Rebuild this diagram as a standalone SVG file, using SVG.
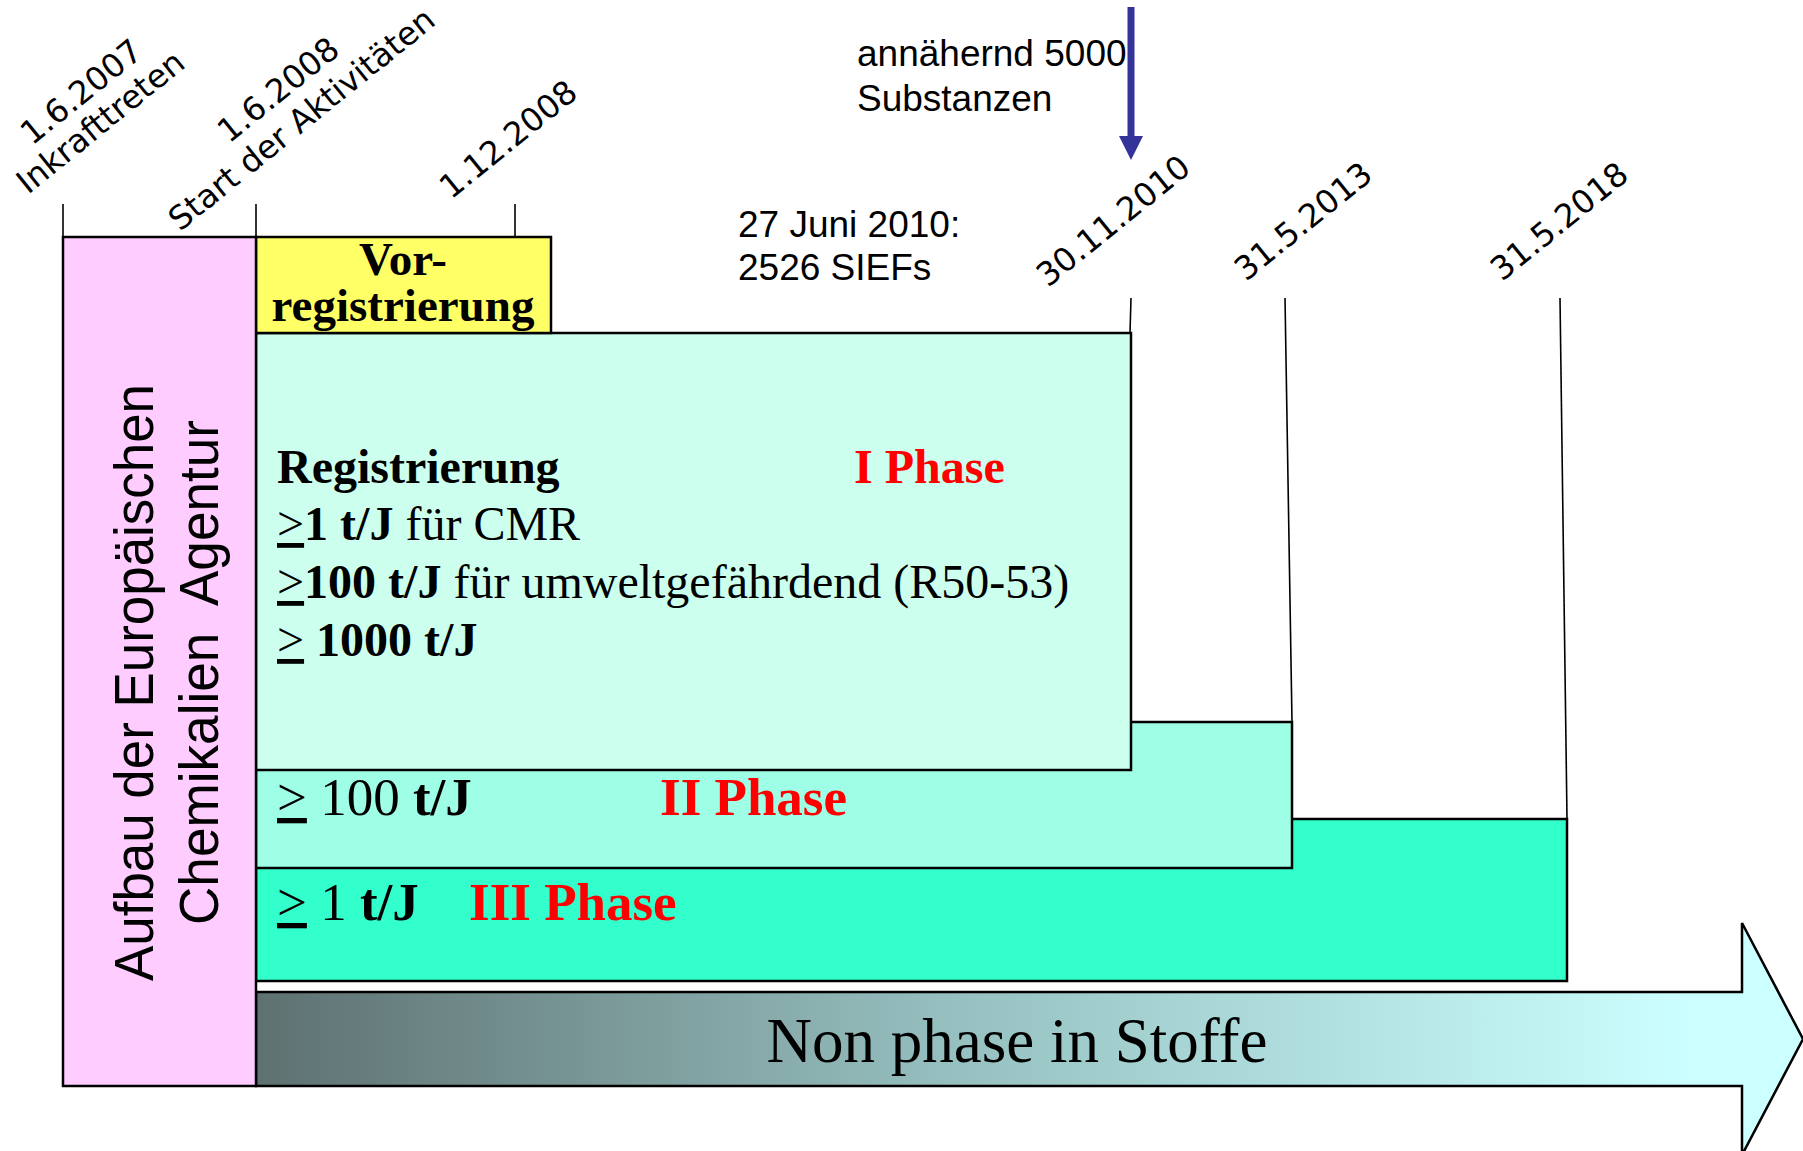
<svg xmlns="http://www.w3.org/2000/svg" width="1803" height="1151" viewBox="0 0 1803 1151">
<defs>
<linearGradient id="arrowGrad" gradientUnits="userSpaceOnUse" x1="256" y1="0" x2="1690" y2="0">
<stop offset="0" stop-color="#5E7171"/>
<stop offset="0.5" stop-color="#98C2C2"/>
<stop offset="1" stop-color="#CCFFFF"/>
</linearGradient>
<marker id="blueHead" markerUnits="userSpaceOnUse" markerWidth="26" markerHeight="26" refX="0" refY="12" orient="auto" viewBox="0 0 26 24">
<path d="M0,0 L24,12 L0,24 Z" fill="#333399"/>
</marker>
</defs>
<style>
.box{stroke:#000;stroke-width:2.5}
.tick{stroke:#000;stroke-width:1.6;fill:none}
.date{font-family:"DejaVu Sans",Verdana,sans-serif;font-size:32.5px;fill:#000}
.sans{font-family:"Liberation Sans",Arial,sans-serif;fill:#000}
.serif{font-family:"Liberation Serif","Times New Roman",serif;fill:#000}
.b{font-weight:bold}
.red{fill:#FF0000;font-weight:bold}
.u{text-decoration:underline}
</style>
<rect width="1803" height="1151" fill="#FFFFFF"/>

<g id="connectors">
<line class="tick" x1="63" y1="204" x2="63" y2="237"/>
<line class="tick" x1="256" y1="204" x2="256" y2="237"/>
<line class="tick" x1="515" y1="204" x2="515" y2="237"/>
<line class="tick" x1="1131" y1="298" x2="1130" y2="333"/>
<line class="tick" x1="1285" y1="298" x2="1292" y2="722"/>
<line class="tick" x1="1560" y1="298" x2="1567" y2="819"/>
<line x1="1131" y1="7" x2="1131" y2="136" stroke="#333399" stroke-width="7" marker-end="url(#blueHead)"/>
</g>

<g id="dates">
<text class="date" transform="translate(32,146) rotate(-39)">1.6.2007</text>
<text class="date" transform="translate(28,195) rotate(-39)">Inkrafttreten</text>
<text class="date" transform="translate(229,144) rotate(-39)">1.6.2008</text>
<text class="date" transform="translate(180,232) rotate(-39)">Start der Aktivitäten</text>
<text class="date" transform="translate(451,200) rotate(-39)">1.12.2008</text>
<text class="date" transform="translate(1048,288) rotate(-39)">30.11.2010</text>
<text class="date" transform="translate(1246,282) rotate(-39)">31.5.2013</text>
<text class="date" transform="translate(1502,282) rotate(-39)">31.5.2018</text>
</g>

<g id="note-5000">
<text class="sans" x="857" y="66" font-size="37">annähernd 5000</text>
<text class="sans" x="857" y="111" font-size="37">Substanzen</text>
</g>

<g id="note-siefs">
<text class="sans" x="738" y="237" font-size="37">27 Juni 2010:</text>
<text class="sans" x="738" y="280" font-size="37">2526 SIEFs</text>
</g>

<g id="non-phase-arrow">
<polygon points="256,992 1742,992 1742,923 1803,1039 1742,1155 1742,1086 256,1086" fill="url(#arrowGrad)" stroke="#000" stroke-width="2.5"/>
<text class="serif" x="1017" y="1062" font-size="63" text-anchor="middle">Non phase in Stoffe</text>
</g>

<g id="phase3">
<rect class="box" x="256" y="819" width="1311" height="162" fill="#33FFCC"/>
<text class="serif" x="277" y="920" font-size="53" style="white-space:pre"><tspan class="u">&gt;</tspan> 1 <tspan class="b">t/J</tspan></text>
<text class="serif red" x="469" y="920" font-size="53">III Phase</text>
</g>

<g id="phase2">
<rect class="box" x="256" y="722" width="1036" height="146" fill="#9FFFE6"/>
<text class="serif" x="277" y="815" font-size="53" style="white-space:pre"><tspan class="u">&gt;</tspan> 100 <tspan class="b">t/J</tspan></text>
<text class="serif red" x="660" y="815" font-size="53">II Phase</text>
</g>

<g id="phase1">
<rect class="box" x="256" y="333" width="875" height="437" fill="#CCFFEE"/>
<text class="serif b" x="277" y="483" font-size="48">Registrierung</text>
<text class="serif red" x="854" y="483" font-size="48">I Phase</text>
<text class="serif" x="277" y="540" font-size="48" style="white-space:pre"><tspan class="u">&gt;</tspan><tspan class="b">1 t/J</tspan> für CMR</text>
<text class="serif" x="277" y="598" font-size="48" style="white-space:pre"><tspan class="u">&gt;</tspan><tspan class="b">100 t/J</tspan> für umweltgefährdend (R50-53)</text>
<text class="serif" x="277" y="656" font-size="48" style="white-space:pre"><tspan class="u">&gt;</tspan><tspan class="b"> 1000 t/J</tspan></text>
</g>

<g id="vorregistrierung">
<rect class="box" x="256" y="237" width="295" height="96" fill="#FFFF66"/>
<text class="serif b" x="403" y="275" font-size="47" text-anchor="middle">Vor-</text>
<text class="serif b" x="403" y="321" font-size="47" text-anchor="middle">registrierung</text>
</g>

<g id="agentur">
<rect class="box" x="63" y="237" width="193" height="849" fill="#FFCCFF"/>
<text class="sans" transform="translate(153,981) rotate(-90)" font-size="55" textLength="597" lengthAdjust="spacingAndGlyphs">Aufbau der Europäischen</text>
<text class="sans" transform="translate(218,925) rotate(-90)" font-size="55" textLength="505" lengthAdjust="spacingAndGlyphs" style="white-space:pre">Chemikalien  Agentur</text>
</g>
</svg>
